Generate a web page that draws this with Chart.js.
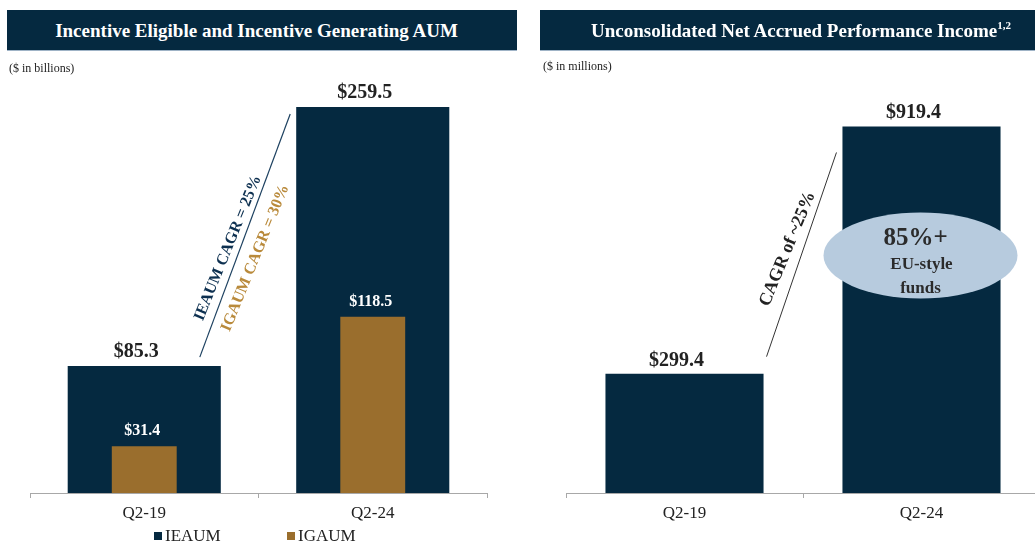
<!DOCTYPE html>
<html><head><meta charset="utf-8">
<script src="https://cdn.jsdelivr.net/npm/chart.js@4.4.1/dist/chart.umd.min.js"></script>
<style>
html,body{margin:0;padding:0;width:1035px;height:543px;overflow:hidden;background:#fff;}
body{position:relative;font-family:"Liberation Serif","Times New Roman",serif;}
.hdr{position:absolute;top:10px;height:40px;background:#052940;color:#fff;font-weight:bold;font-size:19px;line-height:41px;text-align:center;border-bottom:1px solid #9fb3c6;z-index:2;white-space:nowrap;overflow:hidden}
.hdr sup{font-size:11px;vertical-align:8px;line-height:0}
.unit{position:absolute;font-size:12px;color:#222;z-index:2;line-height:14px}
.wrap{position:absolute;top:0;height:543px;}
.leg{position:absolute;top:527px;font-size:17px;color:#222;display:flex;align-items:center;z-index:2;line-height:18px}
.sw{display:inline-block;width:8px;height:8px;margin-right:3px}
</style></head>
<body>
<div class="wrap" style="left:0;width:520px"><canvas id="c1" width="520" height="543"></canvas></div>
<div class="wrap" style="left:540px;width:520px"><canvas id="c2" width="520" height="543"></canvas></div>
<div class="hdr" style="left:7px;width:499px;padding-right:11px">Incentive Eligible and Incentive Generating AUM</div>
<div class="hdr" style="left:540px;width:522px">Unconsolidated Net Accrued Performance Income<sup>1,2</sup></div>
<div class="unit" style="left:9px;top:61px">($ in billions)</div>
<div class="unit" style="left:543px;top:59px">($ in millions)</div>
<div class="leg" style="left:154px"><span class="sw" style="background:#052940"></span>IEAUM</div>
<div class="leg" style="left:287px"><span class="sw" style="background:#9a6e2d"></span>IGAUM</div>
<script>
// ---- data ----
const categories = ['Q2-19', 'Q2-24'];
const ieaum = [85.3, 259.5];        // $ in billions
const igaum = [31.4, 118.5];        // $ in billions
const netAccrued = [299.4, 919.4];  // $ in millions
const seriesNames = ['IEAUM', 'IGAUM', 'Unconsolidated Net Accrued Performance Income'];

// ---- styles ----
const NAVY = '#052940';
const GOLD = '#9a6e2d';
const GOLD_TXT = '#b98a3b';
const DARK = '#222222';
const SERIF = '"Liberation Serif", "Times New Roman", serif';

function txt(ctx, s, x, y, font, color, base) {
  ctx.font = font; ctx.fillStyle = color; ctx.textAlign = 'center';
  ctx.textBaseline = base || 'alphabetic'; ctx.fillText(s, x, y);
}
function money(v) { return '$' + v.toFixed(1); }

const xAxis = () => ({
  grid: { display: true, drawOnChartArea: false, drawTicks: true, tickLength: 5, color: '#a8a8a8', offset: true },
  border: { display: true, color: '#a8a8a8', width: 1 },
  ticks: { color: DARK, font: { family: SERIF, size: 17 }, padding: 5 },
  afterFit(s) { s.height = 50; }
});

const leftDecor = {
  id: 'leftDecor',
  afterDatasetsDraw(chart) {
    const ctx = chart.ctx;
    const m0 = chart.getDatasetMeta(0), m1 = chart.getDatasetMeta(1);
    ctx.save();
    m0.data.forEach((b, i) => txt(ctx, money(ieaum[i]), b.x - 8, b.y - 9, 'bold 20px ' + SERIF, DARK));
    m1.data.forEach((b, i) => txt(ctx, money(igaum[i]), b.x - 2, b.y - 11, 'bold 16px ' + SERIF, '#ffffff'));
    const b0 = m0.data[0], b1 = m0.data[1];
    const x1 = b0.x + b0.width / 2 - 21, y1 = b0.y - 9;
    const x2 = b1.x - b1.width / 2 - 6, y2 = b1.y + 7;
    ctx.strokeStyle = '#1d4160'; ctx.lineWidth = 1.2;
    ctx.beginPath(); ctx.moveTo(x1, y1); ctx.lineTo(x2, y2); ctx.stroke();
    ctx.translate((x1 + x2) / 2, (y1 + y2) / 2);
    ctx.rotate(Math.atan2(y2 - y1, x2 - x1) + 0.03);
    txt(ctx, 'IEAUM CAGR = 25%', -18, -11, 'bold 16px ' + SERIF, '#0d3050', 'middle');
    txt(ctx, 'IGAUM CAGR = 30%', -17, 18, 'bold 16px ' + SERIF, GOLD_TXT, 'middle');
    ctx.restore();
  }
};

const rightDecor = {
  id: 'rightDecor',
  afterDatasetsDraw(chart) {
    const ctx = chart.ctx;
    const m0 = chart.getDatasetMeta(0);
    ctx.save();
    m0.data.forEach((b, i) => txt(ctx, money(netAccrued[i]), b.x - 8, b.y - 8, 'bold 20px ' + SERIF, DARK));
    const b0 = m0.data[0], b1 = m0.data[1];
    // ellipse callout
    const cx = b1.x - 1, cy = b1.y + 129;
    ctx.fillStyle = '#b7cbde';
    ctx.beginPath(); ctx.ellipse(cx, cy, 97, 43, 0, 0, Math.PI * 2); ctx.fill();
    txt(ctx, '85%+', cx - 5, cy - 17, 'bold 25px ' + SERIF, '#2b2b2b', 'middle');
    txt(ctx, 'EU-style', cx + 1, cy + 9, 'bold 17px ' + SERIF, '#2b2b2b', 'middle');
    txt(ctx, 'funds', cx, cy + 33, 'bold 17px ' + SERIF, '#2b2b2b', 'middle');
    // CAGR line
    const x1 = b0.x + b0.width / 2 + 3, y1 = b0.y - 17;
    const x2 = b1.x - b1.width / 2 - 6, y2 = b1.y + 26;
    ctx.strokeStyle = '#333333'; ctx.lineWidth = 1;
    ctx.beginPath(); ctx.moveTo(x1, y1); ctx.lineTo(x2, y2); ctx.stroke();
    ctx.translate((x1 + x2) / 2, (y1 + y2) / 2);
    ctx.rotate(Math.atan2(y2 - y1, x2 - x1) + 0.06);
    txt(ctx, 'CAGR of ~25%', 0, -15, 'bold 18px ' + SERIF, DARK, 'middle');
    ctx.restore();
  }
};

const common = {
  responsive: false,
  devicePixelRatio: 1,
  animation: false,
  plugins: { legend: { display: false }, tooltip: { enabled: false } }
};

new Chart(document.getElementById('c1'), {
  type: 'bar',
  data: {
    labels: categories,
    datasets: [
      { label: seriesNames[0], data: ieaum, backgroundColor: NAVY, grouped: false, barPercentage: 0.67, categoryPercentage: 1, order: 2 },
      { label: seriesNames[1], data: igaum, backgroundColor: GOLD, grouped: false, barPercentage: 0.284, categoryPercentage: 1, order: 1 }
    ]
  },
  options: Object.assign({}, common, {
    layout: { padding: { left: 30, right: 33, top: 80, bottom: 0 } },
    scales: { x: xAxis(), y: { display: false, min: 0, max: 277.6 } }
  }),
  plugins: [leftDecor]
});

new Chart(document.getElementById('c2'), {
  type: 'bar',
  data: {
    labels: categories,
    datasets: [
      { label: seriesNames[2], data: netAccrued, backgroundColor: NAVY, grouped: false, barPercentage: 0.667, categoryPercentage: 1 }
    ]
  },
  options: Object.assign({}, common, {
    layout: { padding: { left: 26, right: 20, top: 80, bottom: 0 } },
    scales: { x: xAxis(), y: { display: false, min: 0, max: 1036 } }
  }),
  plugins: [rightDecor]
});
</script>
</body></html>
